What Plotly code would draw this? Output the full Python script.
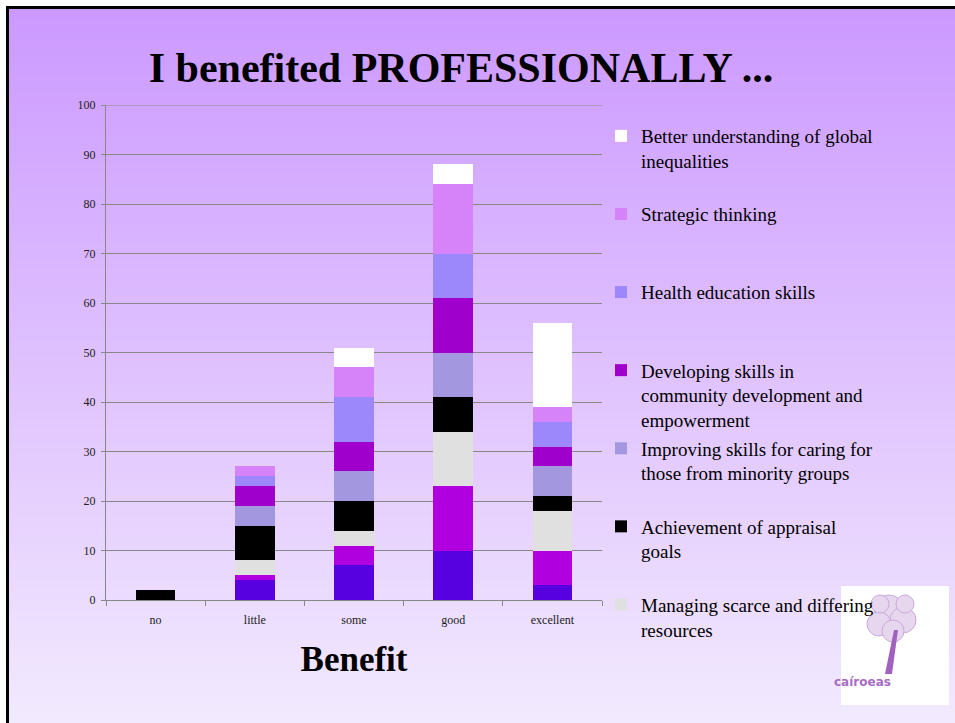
import base64, zlib, struct
import plotly.graph_objects as go

# ---------------- data ----------------
categories = ["no", "little", "some", "good", "excellent"]

series_names = [
    "Series 1",
    "Series 2",
    "Managing scarce and differing<br>resources<br>\u00a0",
    "Achievement of appraisal<br>goals<br>\u00a0",
    "Improving skills for caring for<br>those from minority groups<br>\u00a0",
    "Developing skills in<br>community development and<br>empowerment",
    "Health education skills<br>\u00a0<br>\u00a0",
    "Strategic thinking<br>\u00a0<br>\u00a0",
    "Better understanding of global<br>inequalities<br>\u00a0",
]
series_values = [
    [0, 4, 7, 10, 3],
    [0, 1, 4, 13, 7],
    [0, 3, 3, 11, 8],
    [2, 7, 6, 7, 3],
    [0, 4, 6, 9, 6],
    [0, 4, 6, 11, 4],
    [0, 2, 9, 9, 5],
    [0, 2, 6, 14, 3],
    [0, 0, 4, 4, 17],
]
series_in_legend = [False, False, True, True, True, True, True, True, True]
series_colors = ["#5700E0", "#B000E0", "#E0E0E0", "#000000", "#A398E0",
                 "#A000CC", "#9C88FA", "#D683FA", "#FFFFFF"]
y_ticks = [0, 10, 20, 30, 40, 50, 60, 70, 80, 90, 100]

# ---------------- layout helpers ----------------
W, H = 955, 723
L, R, T, B = 106, 602, 105, 600   # plot area in pixels


def px(x):
    return (x - L) / (R - L)


def py(y):
    return (B - y) / (B - T)


def png_gradient(top, bottom, h=256):
    raw = b"".join(
        b"\x00" + bytes(int(round(top[i] + (bottom[i] - top[i]) * r / (h - 1))) for i in range(3))
        for r in range(h)
    )

    def chunk(t, d):
        c = struct.pack(">I", len(d)) + t + d
        return c + struct.pack(">I", zlib.crc32(t + d) & 0xFFFFFFFF)

    png = (b"\x89PNG\r\n\x1a\n"
           + chunk(b"IHDR", struct.pack(">IIBBBBB", 1, h, 8, 2, 0, 0, 0))
           + chunk(b"IDAT", zlib.compress(raw))
           + chunk(b"IEND", b""))
    return "data:image/png;base64," + base64.b64encode(png).decode()


fig = go.Figure()
n = len(series_names)
for i, (name, vals, col, leg) in enumerate(zip(series_names, series_values, series_colors, series_in_legend)):
    fig.add_trace(go.Bar(
        x=categories, y=vals, name=name, marker_color=col,
        marker_line_width=0, showlegend=leg, legendgroup="g%d" % (n - i),
        legendrank=100 + (n - i),
    ))

serif = "Liberation Serif"
fig.update_layout(
    width=W, height=H,
    barmode="stack", bargap=0.6,
    margin=dict(l=L, r=W - R, t=T, b=H - B),
    paper_bgcolor="white", plot_bgcolor="rgba(0,0,0,0)",
    font=dict(family=serif, color="#000000"),
    title=dict(text="I benefited PROFESSIONALLY ...", x=461 / W, xanchor="center",
               y=1 - 67 / H, yanchor="middle", xref="container", yref="container",
               font=dict(family=serif, size=42, weight="bold", color="#000000")),
    legend=dict(x=px(601), xanchor="left", y=py(117), yanchor="top",
                traceorder="grouped", tracegroupgap=1, valign="top",
                maxheight=700,
                font=dict(family=serif, size=19, color="#000000"),
                bgcolor="rgba(0,0,0,0)", itemwidth=30),
    xaxis=dict(showline=True, linecolor="#888888", linewidth=1,
               ticks="outside", tickson="boundaries", ticklen=5, tickcolor="#888888",
               tickfont=dict(family=serif, size=12, color="#222222"),
               ticklabelstandoff=9,
               title=dict(text="Benefit", standoff=20,
                          font=dict(family=serif, size=35, weight="bold", color="#000000"))),
    yaxis=dict(range=[0, 100], tickvals=y_ticks, showline=True, linecolor="#888888",
               linewidth=1, showgrid=True, gridcolor="#888888", gridwidth=1,
               ticks="outside", ticklen=4, tickcolor="#888888", ticklabelstandoff=3,
               tickfont=dict(family=serif, size=12, color="#222222"),
               zeroline=False),
    showlegend=True,
)

# top gridline (plotly clips the gridline at the range end)
fig.add_shape(type="line", xref="paper", yref="y", x0=0, x1=1, y0=y_ticks[-1], y1=y_ticks[-1],
              line=dict(color="#888888", width=1), layer="below")

# slide background gradient
fig.add_layout_image(dict(
    source=png_gradient((204, 153, 255), (242, 234, 254)),
    xref="paper", yref="paper", x=px(6), y=py(6), sizex=px(W) - px(6), sizey=py(6) - py(H),
    xanchor="left", yanchor="top", sizing="stretch", layer="below",
))

# slide border (left and top)
fig.add_shape(type="line", xref="paper", yref="paper", x0=px(7.5), x1=px(7.5),
              y0=py(6), y1=py(H), line=dict(color="black", width=3))
fig.add_shape(type="line", xref="paper", yref="paper", x0=px(6), x1=px(W),
              y0=py(7.5), y1=py(7.5), line=dict(color="black", width=3))

# logo
fig.add_shape(type="rect", xref="paper", yref="paper", x0=px(841), x1=px(949),
              y0=py(586), y1=py(705), fillcolor="white", line=dict(width=0), layer="above")
for cx, cy, r in [(889, 610, 15), (903, 620, 13), (879, 624, 12), (893, 631, 11), (905, 604, 9), (880, 604, 9)]:
    fig.add_shape(type="circle", xref="paper", yref="paper",
                  x0=px(cx - r), x1=px(cx + r), y0=py(cy - r), y1=py(cy + r),
                  fillcolor="#E6D6EE", line=dict(color="#CBAADB", width=1), layer="above")
fig.add_shape(type="path", xref="paper", yref="paper", layer="above",
              path="M %f %f L %f %f L %f %f L %f %f Z" % (px(885), py(674), px(892), py(674),
                                                        px(898), py(630), px(894), py(630)),
              fillcolor="#A062BE", line=dict(width=0))
fig.add_annotation(text="caíroeas", xref="paper", yref="paper", x=px(893), y=py(682),
                   yanchor="middle", showarrow=False,
                   font=dict(family="DejaVu Sans", size=12, color="#A86CC4", weight="bold"))

fig.write_html("out.html")
